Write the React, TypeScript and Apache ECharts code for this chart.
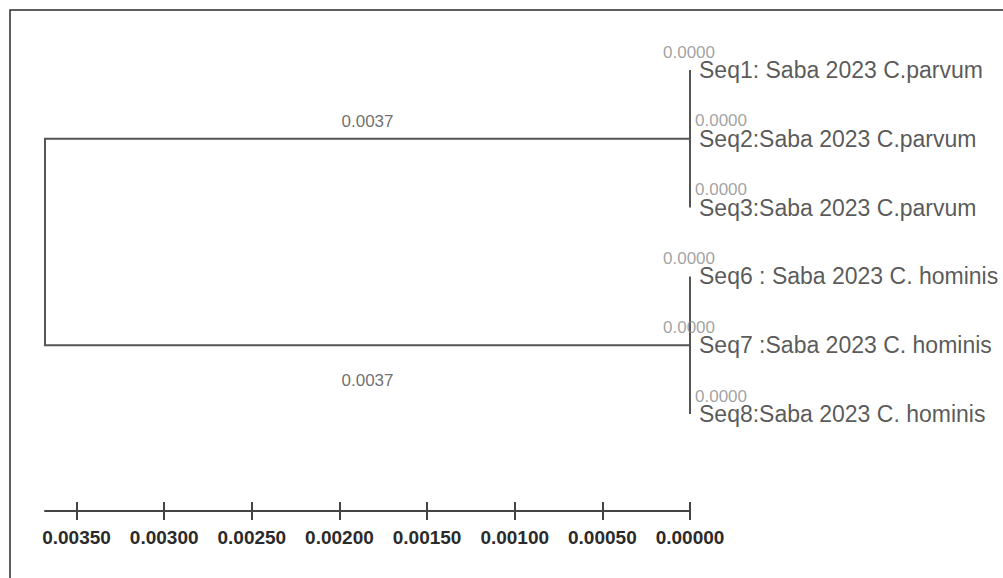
import React, { useEffect, useRef } from "react";
import * as echarts from "echarts";

// ---- data ----
const leafNames = [
  "Seq1: Saba 2023 C.parvum",
  "Seq2:Saba 2023 C.parvum",
  "Seq3:Saba 2023 C.parvum",
  "Seq6 : Saba 2023 C. hominis",
  "Seq7 :Saba 2023 C. hominis",
  "Seq8:Saba 2023 C. hominis",
];
const leafBranchLengths = [0.0, 0.0, 0.0, 0.0, 0.0, 0.0];
const cladeMembers = [
  [0, 1, 2],
  [3, 4, 5],
];
const cladeBranchLengths = [0.00368, 0.00368];
const scaleTicks = [0, 0.0005, 0.001, 0.0015, 0.002, 0.0025, 0.003, 0.0035];

// ---- style constants (not data) ----
const LEAF_LABEL_SHIFT_X = [-27, 5, 5, -27, -27, 5];
const CLADE_LABEL_SHIFT_Y = [-17, 35];
const FONT = "Liberation Sans, Arial, sans-serif";

export default function App() {
  const ref = useRef<HTMLDivElement>(null);

  useEffect(() => {
    if (!ref.current) return;
    const chart = echarts.init(ref.current, undefined, { renderer: "svg" });

    // tree geometry from data
    const leafHeights = leafBranchLengths.map(() => 0);
    const cladeHeights = cladeMembers.map((m) =>
      Math.max(...m.map((i) => leafHeights[i] + leafBranchLengths[i]))
    );
    const cladeY = cladeMembers.map(
      (m) => (Math.min(...m) + Math.max(...m)) / 2
    );
    const rootH = Math.max(
      ...cladeHeights.map((h, c) => h + cladeBranchLengths[c])
    );
    const xMax = rootH;

    const segments: any[] = [];
    cladeMembers.forEach((m, c) => {
      const h = cladeHeights[c];
      segments.push({ coords: [[h, Math.min(...m)], [h, Math.max(...m)]] });
      m.forEach((i) => {
        if (leafBranchLengths[i] > 0)
          segments.push({ coords: [[h, i], [leafHeights[i], i]] });
      });
    });
    segments.push({
      coords: [
        [cladeHeights[0], cladeY[0]],
        [rootH, cladeY[0]],
        [rootH, cladeY[1]],
        [cladeHeights[1], cladeY[1]],
      ],
    });

    const tickStyle = { color: "#444", width: 2 };

    chart.setOption({
      animation: false,
      backgroundColor: "#ffffff",
      graphic: [
        {
          type: "polyline",
          shape: { points: [[10, 600], [10, 10], [1010, 10]] },
          style: { stroke: "#2a2a2a", lineWidth: 1.5, fill: "none" },
          silent: true,
        },
      ],
      grid: [
        { left: 45, right: 313, top: 70, height: 344 },
        { left: 45, right: 313, top: 502, height: 9 },
      ],
      xAxis: [
        {
          type: "value",
          gridIndex: 0,
          min: 0,
          max: xMax,
          inverse: true,
          show: false,
        },
        {
          type: "value",
          gridIndex: 1,
          min: 0,
          max: xMax,
          inverse: true,
          position: "bottom",
          splitLine: { show: false },
          axisLine: { show: true, onZero: false, lineStyle: tickStyle },
          axisTick: {
            show: true,
            inside: false,
            length: 9,
            customValues: scaleTicks,
            lineStyle: tickStyle,
          },
          axisLabel: {
            show: true,
            customValues: scaleTicks,
            margin: 17,
            formatter: (v: number) => v.toFixed(5),
            color: "#2a2a2a",
            fontSize: 19,
            fontWeight: "bold",
            fontFamily: FONT,
          },
        },
        {
          type: "value",
          gridIndex: 1,
          min: 0,
          max: xMax,
          inverse: true,
          position: "top",
          splitLine: { show: false },
          axisLine: { show: false, onZero: false },
          axisTick: {
            show: true,
            inside: true,
            length: 9,
            customValues: scaleTicks,
            lineStyle: tickStyle,
          },
          axisLabel: { show: false },
        },
      ],
      yAxis: [
        {
          type: "value",
          gridIndex: 0,
          min: 0,
          max: leafNames.length - 1,
          inverse: true,
          show: false,
        },
        { type: "value", gridIndex: 1, min: 0, max: 1, show: false },
      ],
      series: [
        {
          type: "lines",
          coordinateSystem: "cartesian2d",
          xAxisIndex: 0,
          yAxisIndex: 0,
          polyline: true,
          silent: true,
          lineStyle: { color: "#555", width: 2, opacity: 1 },
          data: segments,
          z: 2,
        },
        {
          type: "scatter",
          xAxisIndex: 0,
          yAxisIndex: 0,
          silent: true,
          symbolSize: 0,
          itemStyle: { color: "transparent" },
          data: leafNames.map((n, i) => [leafHeights[i], i, n]),
          label: {
            show: true,
            position: "right",
            distance: 9,
            formatter: (p: any) => p.value[2],
            color: "#2e2e2e",
            fontSize: 23,
            fontFamily: FONT,
          },
        },
        {
          type: "scatter",
          xAxisIndex: 0,
          yAxisIndex: 0,
          silent: true,
          symbolSize: 0,
          itemStyle: { color: "transparent" },
          data: leafBranchLengths.map((b, i) => ({
            value: [leafHeights[i], i, b],
            label: { position: [LEAF_LABEL_SHIFT_X[i], -18] },
          })),
          label: {
            show: true,
            align: "left",
            verticalAlign: "middle",
            formatter: (p: any) => Number(p.value[2]).toFixed(4),
            color: "#8a8a8a",
            fontSize: 17,
            fontFamily: FONT,
          },
        },
        {
          type: "scatter",
          xAxisIndex: 0,
          yAxisIndex: 0,
          silent: true,
          symbolSize: 0,
          itemStyle: { color: "transparent" },
          data: cladeBranchLengths.map((b, c) => ({
            value: [(rootH + cladeHeights[c]) / 2, cladeY[c], b],
            label: { offset: [0, CLADE_LABEL_SHIFT_Y[c]] },
          })),
          label: {
            show: true,
            position: "inside",
            formatter: (p: any) => Number(p.value[2]).toFixed(4),
            color: "#4a4a4a",
            fontSize: 17,
            fontFamily: FONT,
          },
        },
      ],
    });

    return () => chart.dispose();
  }, []);

  return (
    <div
      ref={ref}
      style={{
        position: "absolute",
        left: 0,
        top: 0,
        width: 1003,
        height: 578,
        background: "#fff",
      }}
    />
  );
}
